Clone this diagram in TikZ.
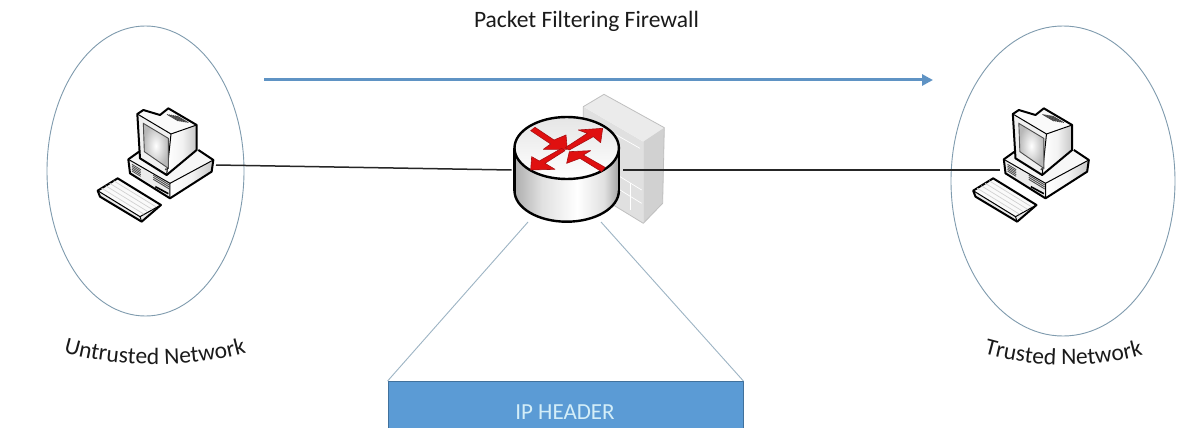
\documentclass[tikz,border=0pt]{standalone}
\usepackage{fontspec}
\setmainfont{Carlito}
\usetikzlibrary{shapes.geometric,arrows.meta,decorations.text}
\definecolor{ringc}{HTML}{7F9BAE}
\definecolor{flowc}{HTML}{5F93C4}
\definecolor{hdrfill}{HTML}{5B9BD5}
\definecolor{hdredge}{HTML}{41719C}
\definecolor{hdrtext}{HTML}{D4EEF8}
\definecolor{fanc}{HTML}{9DB4C4}
\definecolor{txtc}{HTML}{1A1A1A}
\definecolor{arrred}{HTML}{E01010}
\definecolor{arrdark}{HTML}{A80E12}
\pgfdeclarehorizontalshading{cylbody}{100bp}{color(0bp)=(black!32); color(25bp)=(black!32); color(38bp)=(black!12); color(55bp)=(white); color(68bp)=(black!12); color(75bp)=(black!36); color(100bp)=(black!36)}
\pgfdeclarehorizontalshading{pcside}{100bp}{color(0bp)=(white); color(25bp)=(white); color(50bp)=(black!5); color(75bp)=(black!22); color(100bp)=(black!22)}
\tikzset{
  x=1pt,y=-1pt,
  ring/.style={draw=ringc,line width=0.9pt,ellipse,inner sep=0pt},
  link/.style={draw=black!85,line width=1.5pt},
  fan/.style={draw=fanc,line width=0.9pt},
  label/.style={font=\fontsize{23.5}{24}\selectfont,text=txtc},
  curved/.style={decorate,decoration={text effects along path,text={#1},text align=center,
     text effects/.cd,text along path,character command=\fontsize{23.5}{24}\selectfont\color{txtc}}},
  pc/.style={line width=2pt,draw=black,line join=round},
  pcin/.style={line width=1pt,draw=black,line join=round},
  rarrow/.style={fill=arrred,draw=arrdark,line width=0.6pt,line join=round},
  fw/.style={draw=black!25,line width=0.8pt,line join=round},
  fwl/.style={draw=white,line width=0.7pt}
}
\newcommand{\desktop}[2]{%
\begin{scope}[shift={(#1,#2)},x=0.3333pt,y=-0.3333pt]
  % base
  \fill[black!3] (130,178)--(165,153)--(340,150)--(385,180)--(255,250)--cycle;
  \fill[black!8] (130,178)--(255,250)--(255,295)--(135,220)--cycle;
  \shade[shading=pcside] (255,250)--(385,180)--(380,215)--(255,295)--cycle;
  \draw[pc] (165,153)--(130,178)--(135,220)--(255,295)--(380,215)--(385,180)--(340,150);
  \draw[pcin] (130,178)--(255,250)--(255,295);
  \draw[pcin] (255,250)--(385,180);
  \foreach \k in {0,1,2,3,4} \draw[black!70,line width=0.8pt] (141,{193+\k*5})--(167,{209+\k*5});
  \foreach \k in {0,1,2} \draw[black!70,line width=0.9pt] (205,{226+\k*6})--(253,{255+\k*6});
  \draw[black,line width=1.6pt] (211,260)--(250,281);
  % monitor
  \fill[black!2] (157,42)--(175,30)--(225,45)--(250,25)--(335,75)--(335,150)--(245,225)--(165,175)--cycle;
  \shade[shading=pcside] (262,108)--(335,75)--(335,150)--(248,222)--cycle;
  \fill[black!6] (157,42)--(165,175)--(245,225)--(258,102)--cycle;
  \draw[pc] (157,42)--(175,30)--(225,45)--(250,25)--(335,75)--(335,150)--(245,225)--(165,175)--cycle;
  \draw[pcin] (157,42)--(258,102)--(245,225);
  \draw[pcin] (258,102)--(335,75);
  \foreach \k in {0,1,2,3,4,5} \draw[black!75,line width=0.8pt] ({246+\k*6},{43+\k*1})--({280+\k*6},{63+\k*1});
  \shade[inner color=white,outer color=black!28,draw=black!70,line width=0.9pt]
     (175,70)--(250,115)--(250,205)--(178,155)--cycle;
  \fill[black!70] (243,208) circle (3.5);
  % keyboard
  \fill[black!8] (38,272)--(98,235)--(228,315)--(170,365)--(45,290)--cycle;
  \fill[black!2] (38,272)--(98,235)--(225,312)--(165,350)--cycle;
  \draw[pc] (38,272)--(98,235)--(228,315)--(170,365)--(45,290)--cycle;
  \draw[pcin] (38,272)--(165,350)--(228,315);
  \draw[pcin] (165,350)--(170,365);
  \foreach \k in {1,2,3,4} \draw[black!18,line width=0.7pt] ({38+\k*12},{272-\k*7.4})--({165+\k*12},{350-\k*7.4});
\end{scope}}
\begin{document}
\begin{tikzpicture}
\useasboundingbox (0,0) rectangle (1200,428);
\fill[white] (0,0) rectangle (1200,428);

% network rings
\node[ring,minimum width=197pt,minimum height=290pt] (untrusted) at (145.5,171) {};
\node[ring,minimum width=224pt,minimum height=310pt] (trusted) at (1063,181) {};

% title and flow arrow
\node[label] (title) at (586.5,21) {Packet Filtering Firewall};
\coordinate (flowA) at (264,80);
\coordinate (flowB) at (933,80);
\draw[flowc,line width=3pt,-{Triangle[length=11pt,width=11pt]}] (flowA) -- (flowB);

% header
\node[draw=hdredge,fill=hdrfill,line width=0.8pt,minimum width=355pt,minimum height=60pt,anchor=north,inner sep=0pt] (header) at (565.5,381) {};
\node[font=\fontsize{23}{24}\selectfont,text=hdrtext] (hdrlabel) at (565,412) {IP HEADER};

% firewall
\begin{scope}[shift={(480,80)},x=0.3333pt,y=-0.3333pt]
  \fill[black!12] (310,80)--(490,185)--(490,430)--(310,320)--cycle;
  \fill[black!8] (310,80)--(372,43)--(553,143)--(490,185)--cycle;
  \fill[black!18] (490,185)--(553,143)--(548,370)--(490,430)--cycle;
  \draw[fwl] (330,120)--(480,205);
  \draw[fwl] (420,290)--(485,330);
  \draw[fwl] (420,330)--(485,370);
  \draw[fwl] (450,310)--(450,390);
  \draw[fw] (310,80)--(372,43)--(553,143)--(548,370)--(490,430)--(310,320)--cycle;
\end{scope}

% router
\coordinate (routerC) at (566.7,148);
\shade[shading=cylbody] (566.7,190.7) ellipse (52.2pt and 31pt);
\shade[shading=cylbody] (514.5,148) rectangle (618.9,190.7);
\draw[black,line width=2.4pt] (514.5,190.7) arc[start angle=180,end angle=360,x radius=52.2pt,y radius=31pt];
\draw[black,line width=2.4pt] (514.5,148)--(514.5,190.7) (618.9,148)--(618.9,190.7);
\shade[top color=black!10,bottom color=white,draw=black,line width=2.4pt] (routerC) ellipse (52.2pt and 31pt);
\begin{scope}[shift={(480,80)},x=0.3333pt,y=-0.3333pt]
  \path[rarrow] (165,142)--(222,180)--(258,165)--(262,208)--(190,208)--(212,192)--(152,152)--cycle;
  \path[rarrow] (368,145)--(362,188)--(340,170)--(268,210)--(256,203)--(322,160)--(295,150)--cycle;
  \path[rarrow] (152,270)--(155,230)--(178,243)--(245,205)--(255,212)--(195,250)--(225,268)--cycle;
  \path[rarrow] (260,250)--(268,215)--(332,212)--(310,225)--(375,262)--(365,275)--(300,235)--cycle;
\end{scope}

% computers
\desktop{85}{100}
\desktop{960.5}{100}

% connector ends
\coordinate (pcL) at (216,165);
\coordinate (routerL) at (511.5,170);
\coordinate (routerR) at (623,170);
\coordinate (pcR) at (1000,170);
\coordinate (routerBL) at (528,222);
\coordinate (routerBR) at (601,222);
\draw[link] (pcL) -- (routerL);
\draw[link] (routerR) -- (pcR);
\draw[fan] (routerBL) -- (header.north west);
\draw[fan] (routerBR) -- (header.north east);

% curved labels
\coordinate (uA) at (60,351); \coordinate (uB) at (250,352);
\coordinate (tA) at (981,353); \coordinate (tB) at (1146,354);
\path[curved={Untrusted Network}] (uA) .. controls (115,369) and (195,368) .. (uB);
\path[curved={Trusted Network}] (tA) .. controls (1030,368) and (1095,369) .. (tB);
\end{tikzpicture}
\end{document}
